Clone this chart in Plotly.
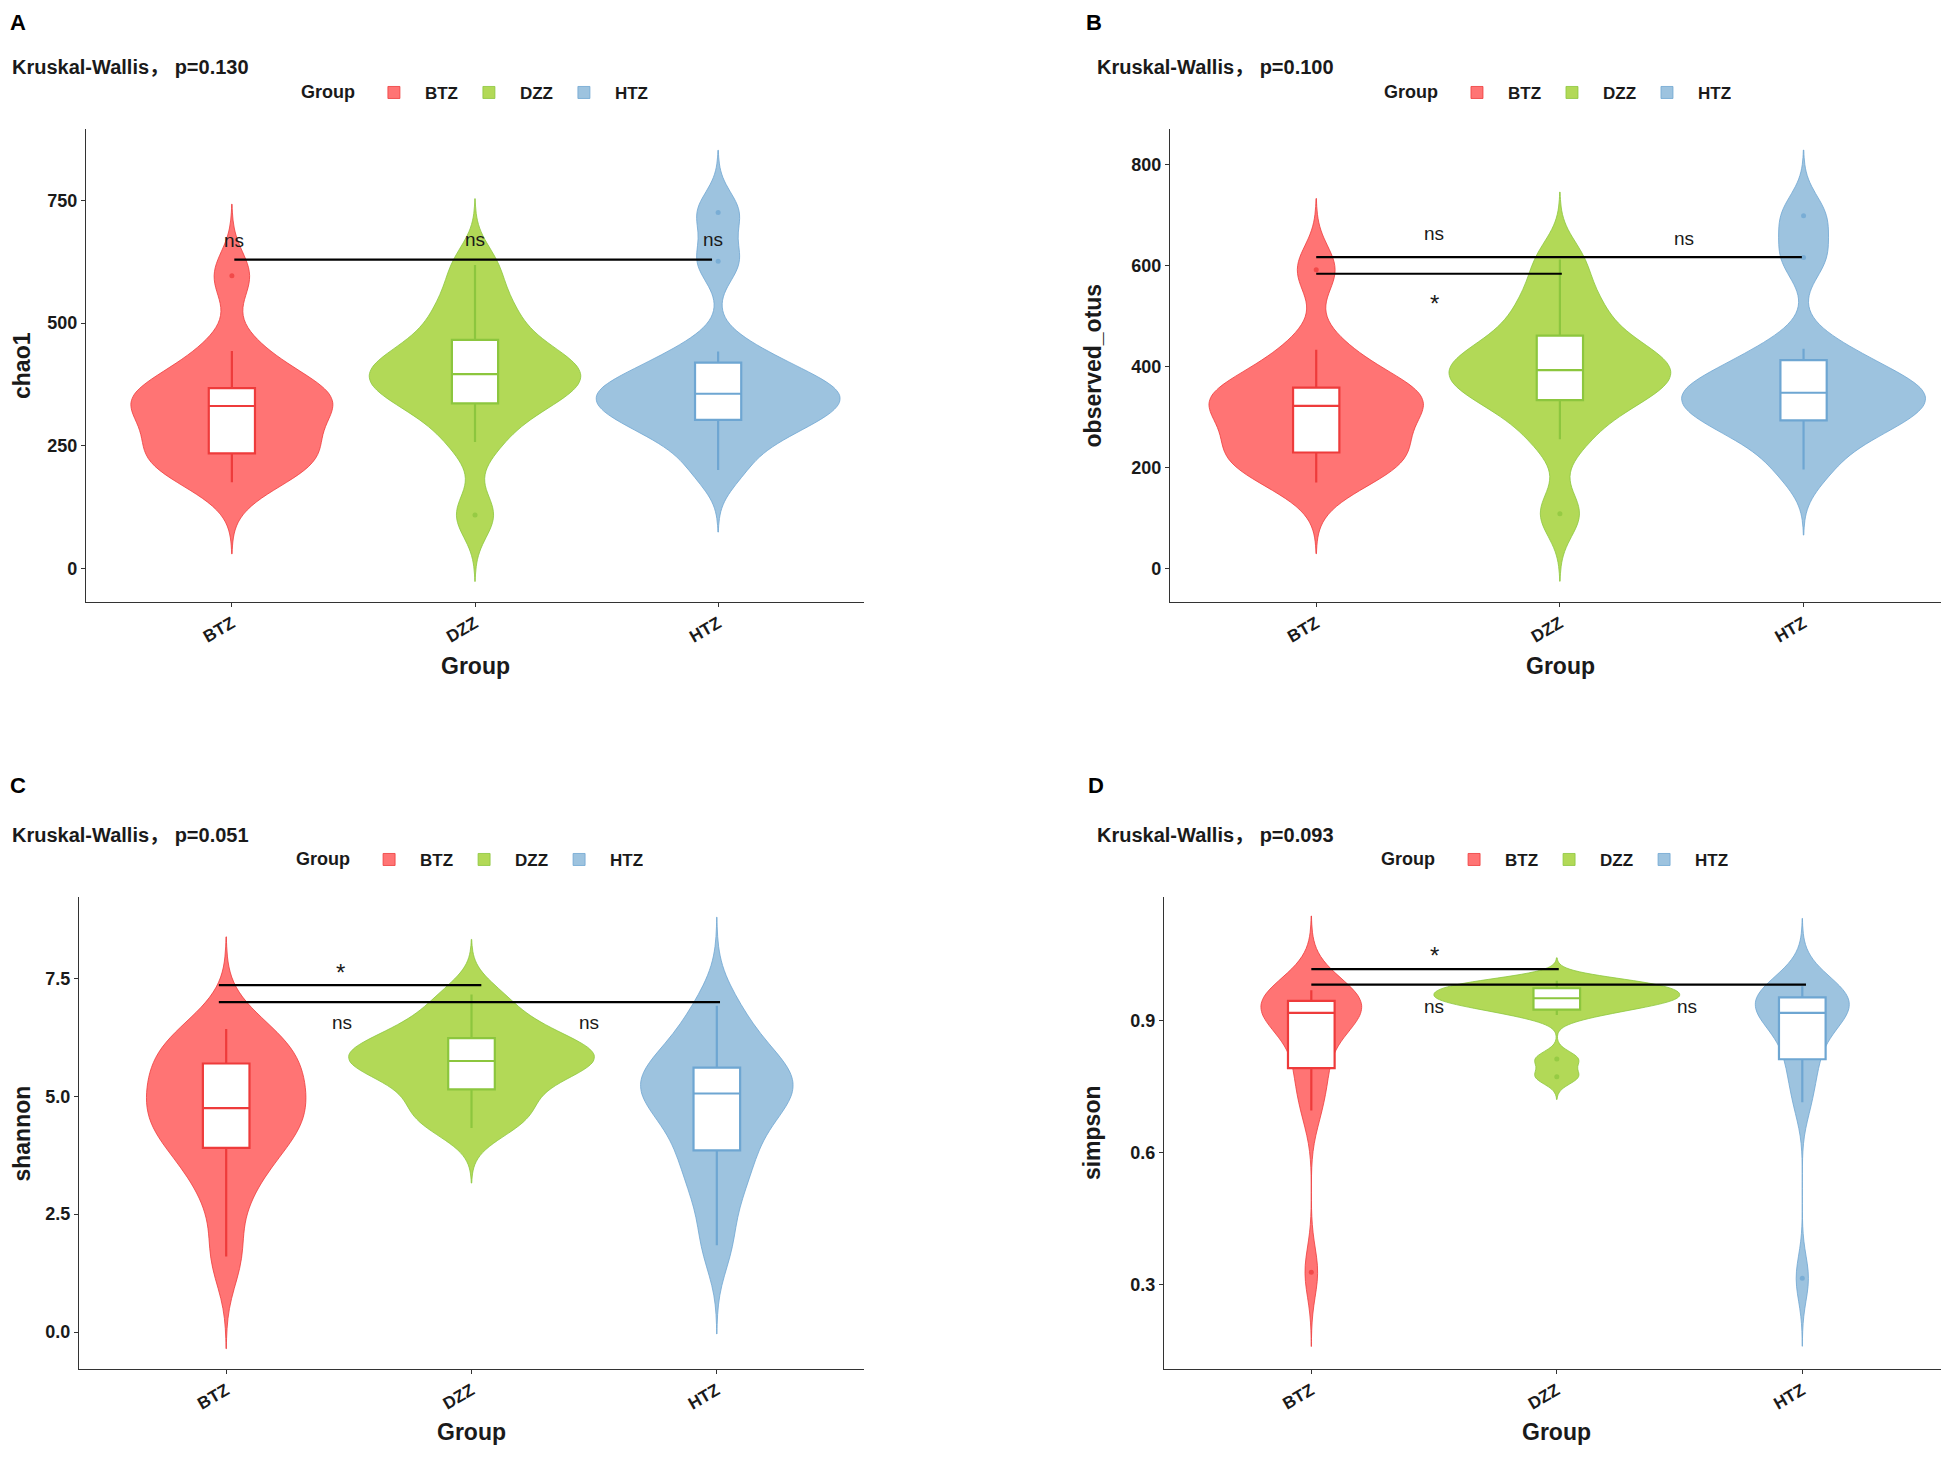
import numpy as np
import plotly.graph_objects as go

# ---------------- data ----------------
groups = ["BTZ", "DZZ", "HTZ"]

chao1_BTZ = [176, 205, 228, 237, 262, 300, 331, 340, 352, 358, 395, 443, 596]
chao1_DZZ = [109, 258, 320, 342, 365, 385, 396, 410, 430, 454, 500, 545, 618]
chao1_HTZ = [201, 265, 290, 307, 330, 345, 356, 365, 380, 412, 442, 626, 725]

otus_BTZ = [170, 198, 222, 232, 255, 292, 322, 331, 342, 349, 385, 433, 592]
otus_DZZ = [108, 256, 316, 339, 360, 380, 393, 406, 426, 450, 495, 540, 612]
otus_HTZ = [196, 258, 282, 297, 320, 336, 348, 357, 372, 405, 435, 616, 699]

shannon_BTZ = [1.60, 2.90, 3.60, 4.01, 4.30, 4.55, 4.75, 5.00, 5.35, 5.63, 5.90, 6.15, 6.43]
shannon_DZZ = [4.33, 4.60, 4.90, 5.23, 5.55, 5.68, 5.75, 5.85, 5.98, 6.20, 6.35, 6.70, 7.16]
shannon_HTZ = [1.84, 2.90, 3.50, 3.97, 4.45, 4.85, 5.06, 5.20, 5.38, 5.53, 5.85, 6.30, 6.92]

simpson_BTZ = [0.328, 0.695, 0.760, 0.802, 0.860, 0.900, 0.917, 0.925, 0.933, 0.942, 0.950, 0.958, 0.968]
simpson_DZZ = [0.772, 0.812, 0.912, 0.928, 0.936, 0.944, 0.950, 0.955, 0.962, 0.971, 0.978, 0.984, 0.990]
simpson_HTZ = [0.314, 0.714, 0.780, 0.822, 0.870, 0.900, 0.917, 0.928, 0.940, 0.950, 0.958, 0.967, 0.977]

metrics = ["chao1", "observed_otus", "shannon", "simpson"]
panel_letters = ["A", "B", "C", "D"]
kw_pvalues = ["0.130", "0.100", "0.051", "0.093"]

# significance brackets: (from index, to index, y) and labels (text, x index, y)
sig_lines = [
    [(0.01, 1.975, 629)],
    [(0.0, 1.993, 617), (0.0, 1.008, 584)],
    [(-0.03, 1.04, 7.36), (-0.03, 2.013, 7.0)],
    [(0.0, 1.008, 1.016), (0.0, 2.015, 0.981)],
]
sig_labels = [
    [("ns", 0.01, 664), ("ns", 1.0, 665), ("ns", 1.98, 666)],
    [("ns", 0.485, 660), ("*", 0.485, 536), ("ns", 1.51, 650)],
    [("*", 0.468, 7.75), ("ns", 0.474, 6.52), ("ns", 1.48, 6.53)],
    [("*", 0.50, 1.06), ("ns", 0.50, 0.927), ("ns", 1.53, 0.927)],
]

panel_data = [
    [chao1_BTZ, chao1_DZZ, chao1_HTZ],
    [otus_BTZ, otus_DZZ, otus_HTZ],
    [shannon_BTZ, shannon_DZZ, shannon_HTZ],
    [simpson_BTZ, simpson_DZZ, simpson_HTZ],
]

# ---------------- styles / layout ----------------
fill_colors = ["#FF7474", "#B2D957", "#9DC3DF"]
line_colors = ["#EE3B3B", "#8CC63E", "#6EA6D2"]
violin_widths = [
    [0.83, 0.87, 1.0],
    [0.88, 0.91, 1.0],
    [0.65, 1.0, 0.62],
    [0.41, 1.0, 0.38],
]
y_ranges = [[-68, 895], [-67, 871], [-0.785, 9.23], [0.108, 1.18]]
y_ticks = [[0, 250, 500, 750], [0, 200, 400, 600, 800], [0, 2.5, 5.0, 7.5], [0.3, 0.6, 0.9]]
y_fmt = ["d", "d", ".1f", ".1f"]
x_ranges = [[-0.6, 2.6], [-0.6, 2.564], [-0.6, 2.6], [-0.6, 2.565]]
x_domains = [[0.04035, 0.44284], [0.60114, 1.0], [0.03673, 0.44284], [0.59804, 1.0]]
y_domains = [[0.58807, 0.91609], [0.58807, 0.91609], [0.05617, 0.38350], [0.05617, 0.38350]]

letter_pos = [(0.0, 1.0), (0.5566, 1.0), (0.0, 0.4712), (0.5575, 0.4712)]
kw_pos = [(0.001, 0.9591), (0.5623, 0.9591), (0.001, 0.4265), (0.5623, 0.4265)]
legend_pos = [(0.1505, 0.9411), (0.7108, 0.9411), (0.1480, 0.4092), (0.7093, 0.4092)]
xtitle_pos = [(0.2416, 0.5437), (0.8029, 0.5437), (0.2398, 0.0125), (0.8012, 0.0125)]
ytitle_pos = [(0.0075, 0.7521), (0.5613, 0.7521), (0.0075, 0.2198), (0.5608, 0.2198)]

FONT = "Liberation Sans, Arial, Noto Sans CJK SC, sans-serif"
TXT = "#1a1a1a"


def nrd0(v):
    v = np.asarray(v, dtype=float)
    sd = v.std(ddof=1)
    q75, q25 = np.percentile(v, [75, 25])
    lo = min(sd, (q75 - q25) / 1.34)
    return 0.9 * lo * len(v) ** -0.2


fig = go.Figure()
layout = dict(
    width=1933, height=1442,
    margin=dict(l=0, r=0, t=0, b=0),
    paper_bgcolor="white", plot_bgcolor="white",
    violinmode="overlay", boxmode="overlay",
    font=dict(family=FONT, color=TXT),
    showlegend=True,
)
shapes = []
annotations = []

for p in range(4):
    sfx = "" if p == 0 else str(p + 1)
    xa, ya = "x" + sfx, "y" + sfx
    leg = "legend" + sfx
    for gi, (g, vals) in enumerate(zip(groups, panel_data[p])):
        bw = nrd0(vals)
        fig.add_trace(go.Violin(
            x=[g] * len(vals), y=vals, name=g, legend=leg, xaxis=xa, yaxis=ya,
            fillcolor=fill_colors[gi], line=dict(color=line_colors[gi], width=0.8),
            opacity=1, bandwidth=bw, spanmode="manual",
            span=[min(vals) - 3 * bw, max(vals) + 3 * bw],
            scalemode="width", width=violin_widths[p][gi], points=False,
            box_visible=False, meanline_visible=False, showlegend=True,
            hoverinfo="skip",
        ))
        fig.add_trace(go.Box(
            x=[g] * len(vals), y=vals, name=g, xaxis=xa, yaxis=ya,
            fillcolor="white", line=dict(color=line_colors[gi], width=2.2),
            width=0.19, whiskerwidth=0, boxpoints="outliers",
            marker=dict(color=line_colors[gi], size=5, opacity=0.75),
            quartilemethod="linear", showlegend=False,
        ))

    layout["xaxis" + sfx] = dict(
        domain=x_domains[p], anchor=ya, type="category",
        categoryorder="array", categoryarray=groups, range=x_ranges[p],
        showline=True, linecolor="#333", linewidth=1.2, showgrid=False,
        zeroline=False, ticks="outside", ticklen=4, tickcolor="#333",
        tickangle=-30, tickfont=dict(family=FONT, size=17, color=TXT, weight="bold"),
    )
    layout["yaxis" + sfx] = dict(
        domain=y_domains[p], anchor=xa, range=y_ranges[p],
        tickvals=y_ticks[p], tickformat=y_fmt[p],
        showline=True, linecolor="#333", linewidth=1.2, showgrid=False,
        zeroline=False, ticks="outside", ticklen=4, tickcolor="#333",
        tickfont=dict(family=FONT, size=18, color=TXT, weight="bold"),
    )
    layout[leg] = dict(
        orientation="h", x=legend_pos[p][0], y=legend_pos[p][1],
        xanchor="left", yanchor="middle", bgcolor="rgba(0,0,0,0)",
        title=dict(text="Group", side="left",
                   font=dict(family=FONT, size=18, color=TXT, weight="bold")),
        font=dict(family=FONT, size=17, color=TXT, weight="bold"),
        itemwidth=52, entrywidth=28, entrywidthmode="pixels",
        traceorder="normal",
    )

    for (x0, x1, yv) in sig_lines[p]:
        shapes.append(dict(type="line", xref=xa, yref=ya, x0=x0, x1=x1,
                           y0=yv, y1=yv, line=dict(color="black", width=2.2)))
    for (t, xv, yv) in sig_labels[p]:
        star = t == "*"
        annotations.append(dict(
            xref=xa, yref=ya, x=xv, y=yv, text=t, showarrow=False,
            xanchor="center", yanchor="middle", yshift=-6 if star else 2,
            font=dict(family=FONT, size=24 if star else 19, color=TXT),
        ))

    annotations.append(dict(
        xref="paper", yref="paper", x=letter_pos[p][0], y=letter_pos[p][1],
        text=panel_letters[p], showarrow=False, xanchor="left", yanchor="top",
        font=dict(family=FONT, size=22, color="black", weight="bold"),
    ))
    annotations.append(dict(
        xref="paper", yref="paper", x=kw_pos[p][0], y=kw_pos[p][1],
        text="Kruskal-Wallis， p=" + kw_pvalues[p], showarrow=False,
        xanchor="left", yanchor="middle",
        font=dict(family=FONT, size=20, color=TXT, weight="bold"),
    ))
    annotations.append(dict(
        xref="paper", yref="paper", x=xtitle_pos[p][0], y=xtitle_pos[p][1],
        text="Group", showarrow=False, xanchor="center", yanchor="middle",
        font=dict(family=FONT, size=23, color=TXT, weight="bold"),
    ))
    annotations.append(dict(
        xref="paper", yref="paper", x=ytitle_pos[p][0], y=ytitle_pos[p][1],
        text=metrics[p], showarrow=False, xanchor="center", yanchor="middle",
        textangle=-90,
        font=dict(family=FONT, size=23, color=TXT, weight="bold"),
    ))

layout["shapes"] = shapes
layout["annotations"] = annotations
fig.update_layout(**layout)

fig.write_html("out.html")
